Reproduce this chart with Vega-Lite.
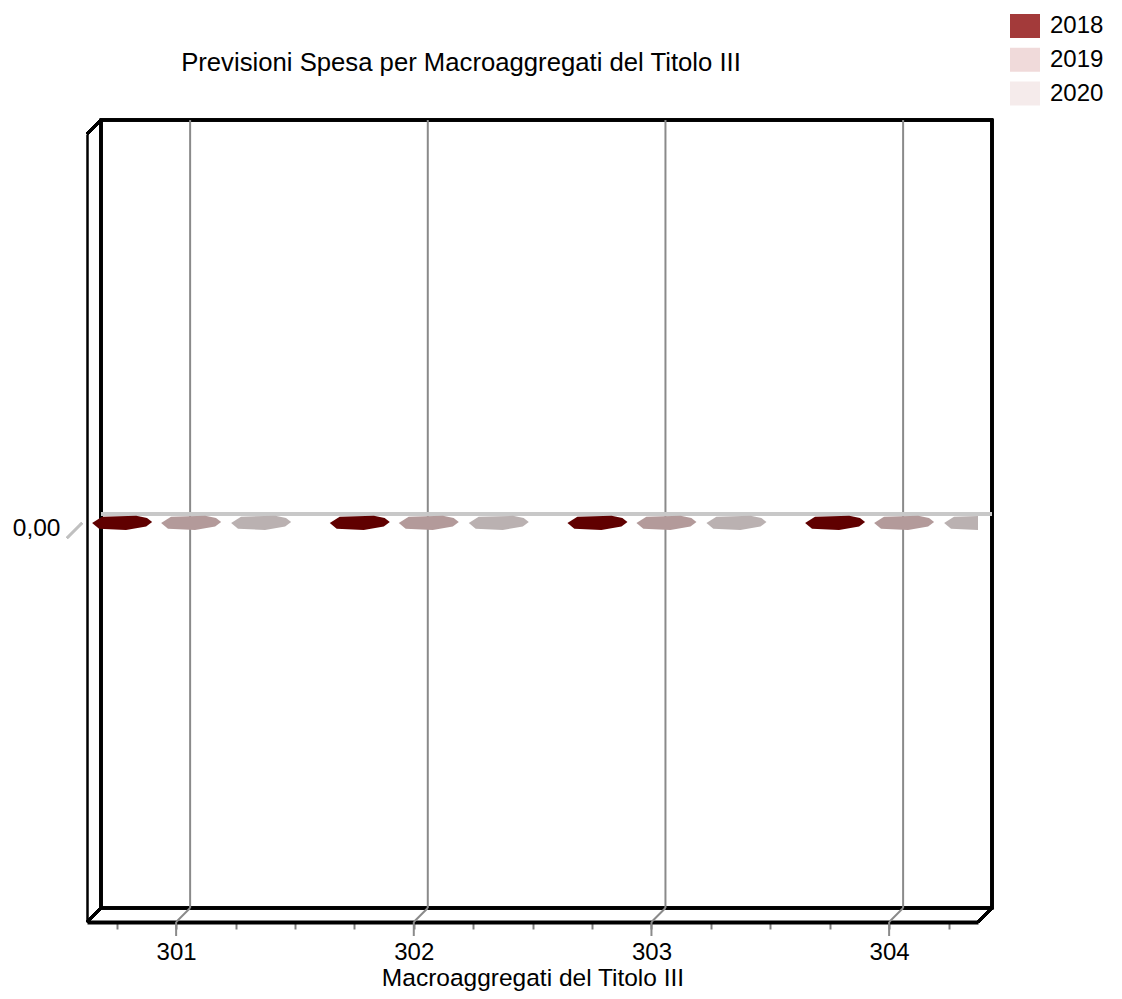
{
  "$schema": "https://vega.github.io/schema/vega-lite/v6.json",
  "width": 891,
  "height": 788,
  "autosize": {"type": "none"},
  "padding": {"left": 87, "top": 134, "right": 144, "bottom": 77},
  "background": "white",
  "title": {
    "text": "Previsioni Spesa per Macroaggregati del Titolo III",
    "frame": "group",
    "anchor": "middle",
    "dx": -71.5,
    "offset": -86,
    "baseline": "alphabetic",
    "font": "Liberation Sans",
    "fontSize": 25.7,
    "fontWeight": "normal",
    "color": "black"
  },
  "config": {
    "view": {"stroke": null},
    "font": "Liberation Sans"
  },
  "data": {
    "values": [
      {"cat": 301, "year": "2018", "value": 0},
      {"cat": 301, "year": "2019", "value": 0},
      {"cat": 301, "year": "2020", "value": 0},
      {"cat": 302, "year": "2018", "value": 0},
      {"cat": 302, "year": "2019", "value": 0},
      {"cat": 302, "year": "2020", "value": 0},
      {"cat": 303, "year": "2018", "value": 0},
      {"cat": 303, "year": "2019", "value": 0},
      {"cat": 303, "year": "2020", "value": 0},
      {"cat": 304, "year": "2018", "value": 0},
      {"cat": 304, "year": "2019", "value": 0},
      {"cat": 304, "year": "2020", "value": 0}
    ]
  },
  "layer": [
    {
      "mark": {"type": "rect", "fill": "white", "fillOpacity": 0, "stroke": "black", "strokeWidth": 2.5, "xOffset": 14, "x2Offset": 14, "yOffset": -14, "y2Offset": -14},
      "encoding": {
        "x": {
          "datum": 300.625,
          "type": "quantitative",
          "scale": {"domain": [300.625, 304.374], "nice": false, "zero": false},
          "axis": {
            "values": [300.75, 301, 301.25, 301.5, 301.75, 302, 302.25, 302.5, 302.75, 303, 303.25, 303.5, 303.75, 304, 304.25],
            "labelExpr": "datum.value % 1 === 0 ? format(datum.value, 'd') : ''",
            "grid": false,
            "domainColor": "black",
            "domainWidth": 4,
            "tickColor": "#808080",
            "tickWidth": 2,
            "tickSize": 7,
            "labelFont": "Liberation Sans",
            "labelFontSize": 24,
            "labelColor": "black",
            "labelPadding": 11,
            "labelFlush": false,
            "labelOverlap": false,
            "title": "Macroaggregati del Titolo III",
            "titleFont": "Liberation Sans",
            "titleFontSize": 24.5,
            "titleFontWeight": "normal",
            "titleColor": "black",
            "titlePadding": 2
          }
        },
        "x2": {"datum": 304.374},
        "y": {
          "datum": 1,
          "type": "quantitative",
          "scale": {"domain": [-1, 1], "nice": false, "zero": false},
          "axis": {
            "values": [0],
            "labelExpr": "replace(format(datum.value, '.2f'), '.', ',')",
            "grid": false,
            "ticks": false,
            "domainColor": "black",
            "domainWidth": 2.5,
            "labelFont": "Liberation Sans",
            "labelFontSize": 24.5,
            "labelColor": "black",
            "labelPadding": 27,
            "title": null
          }
        },
        "y2": {"datum": -1}
      }
    },
    {
      "transform": [{"filter": "datum.year == '2018'"}],
      "mark": {"type": "rule", "color": "#8a8a8a", "strokeWidth": 2, "xOffset": 14, "yOffset": -14, "y2Offset": -14},
      "encoding": {
        "x": {"field": "cat", "type": "quantitative"},
        "y": {"datum": -1, "type": "quantitative"},
        "y2": {"datum": 1}
      }
    },
    {
      "transform": [{"filter": "datum.year == '2018'"}],
      "mark": {"type": "rule", "color": "#8a8a8a", "strokeWidth": 2, "xOffset": 14, "yOffset": -14},
      "encoding": {
        "x": {"field": "cat", "type": "quantitative"},
        "x2": {"field": "cat"},
        "y": {"datum": -1, "type": "quantitative"},
        "y2": {"datum": -1}
      }
    },
    {
      "transform": [{"filter": "datum.year == '2018'"}],
      "mark": {"type": "rule", "color": "#8a8a8a", "strokeWidth": 2, "y2Offset": 14},
      "encoding": {
        "x": {"field": "cat", "type": "quantitative"},
        "y": {"datum": -1, "type": "quantitative"},
        "y2": {"datum": -1}
      }
    },
    {
      "mark": {"type": "rule", "color": "#c8c8c8", "strokeWidth": 3, "xOffset": 14, "x2Offset": 14, "yOffset": -14},
      "encoding": {
        "x": {"datum": 300.625, "type": "quantitative"},
        "x2": {"datum": 304.374},
        "y": {"datum": 0, "type": "quantitative"}
      }
    },
    {
      "mark": {"type": "rule", "color": "#c0c0c0", "strokeWidth": 2, "xOffset": -20, "yOffset": 10, "x2Offset": -5, "y2Offset": -5},
      "encoding": {
        "x": {"datum": 300.625, "type": "quantitative"},
        "x2": {"datum": 300.625},
        "y": {"datum": 0, "type": "quantitative"},
        "y2": {"datum": 0}
      }
    },
    {
      "mark": {"type": "rule", "color": "black", "strokeWidth": 2.5, "x2Offset": 14, "y2Offset": -14},
      "encoding": {
        "x": {"datum": 300.625, "type": "quantitative"},
        "x2": {"datum": 300.625},
        "y": {"datum": 1, "type": "quantitative"},
        "y2": {"datum": 1}
      }
    },
    {
      "mark": {"type": "rule", "color": "black", "strokeWidth": 2.5, "x2Offset": 14, "y2Offset": -14},
      "encoding": {
        "x": {"datum": 300.625, "type": "quantitative"},
        "x2": {"datum": 300.625},
        "y": {"datum": -1, "type": "quantitative"},
        "y2": {"datum": -1}
      }
    },
    {
      "mark": {"type": "rule", "color": "black", "strokeWidth": 3, "x2Offset": 14, "y2Offset": -14},
      "encoding": {
        "x": {"datum": 304.374, "type": "quantitative"},
        "x2": {"datum": 304.374},
        "y": {"datum": -1, "type": "quantitative"},
        "y2": {"datum": -1}
      }
    },
    {
      "transform": [{"filter": "datum.year == '2018'"}],
      "mark": {"type": "point", "shape": "M-1,0L-0.67,-0.21L0.47,-0.24L0.83,-0.17L1,-0.03L0.8,0.12L0.13,0.23L-0.77,0.19Z", "size": 3600, "filled": true, "opacity": 1, "strokeWidth": 0, "color": "#600000", "xOffset": -54, "yOffset": -5, "clip": true},
      "encoding": {
        "x": {"field": "cat", "type": "quantitative"},
        "y": {"field": "value", "type": "quantitative"}
      }
    },
    {
      "transform": [{"filter": "datum.year == '2019'"}],
      "mark": {"type": "point", "shape": "M-1,0L-0.67,-0.21L0.47,-0.24L0.83,-0.17L1,-0.03L0.8,0.12L0.13,0.23L-0.77,0.19Z", "size": 3600, "filled": true, "opacity": 1, "strokeWidth": 0, "color": "#b39a9a", "xOffset": 15, "yOffset": -5, "clip": true},
      "encoding": {
        "x": {"field": "cat", "type": "quantitative"},
        "y": {"field": "value", "type": "quantitative"}
      }
    },
    {
      "transform": [{"filter": "datum.year == '2020'"}],
      "mark": {"type": "point", "shape": "M-1,0L-0.67,-0.21L0.47,-0.24L0.83,-0.17L1,-0.03L0.8,0.12L0.13,0.23L-0.77,0.19Z", "size": 3600, "filled": true, "opacity": 1, "strokeWidth": 0, "color": "#bab1b1", "xOffset": 85, "yOffset": -5, "clip": true},
      "encoding": {
        "x": {"field": "cat", "type": "quantitative"},
        "y": {"field": "value", "type": "quantitative"}
      }
    },
    {
      "mark": {"type": "point", "shape": "square", "filled": true, "opacity": 0, "size": 1},
      "encoding": {
        "x": {"field": "cat", "type": "quantitative"},
        "y": {"field": "value", "type": "quantitative"},
        "color": {
          "field": "year",
          "type": "nominal",
          "scale": {"domain": ["2018", "2019", "2020"], "range": ["#a33a3a", "#f0dada", "#f5ebeb"]},
          "legend": {
            "orient": "none",
            "legendX": 923,
            "legendY": -123,
            "title": null,
            "padding": 0,
            "symbolType": "M-1,-0.8L1,-0.8L1,0.8L-1,0.8Z",
            "symbolSize": 900,
            "symbolOpacity": 1,
            "symbolStrokeWidth": 0,
            "symbolStrokeColor": "transparent",
            "labelFont": "Liberation Sans",
            "labelFontSize": 24,
            "labelColor": "black",
            "labelOffset": 10,
            "rowPadding": 6.75
          }
        }
      }
    }
  ]
}
